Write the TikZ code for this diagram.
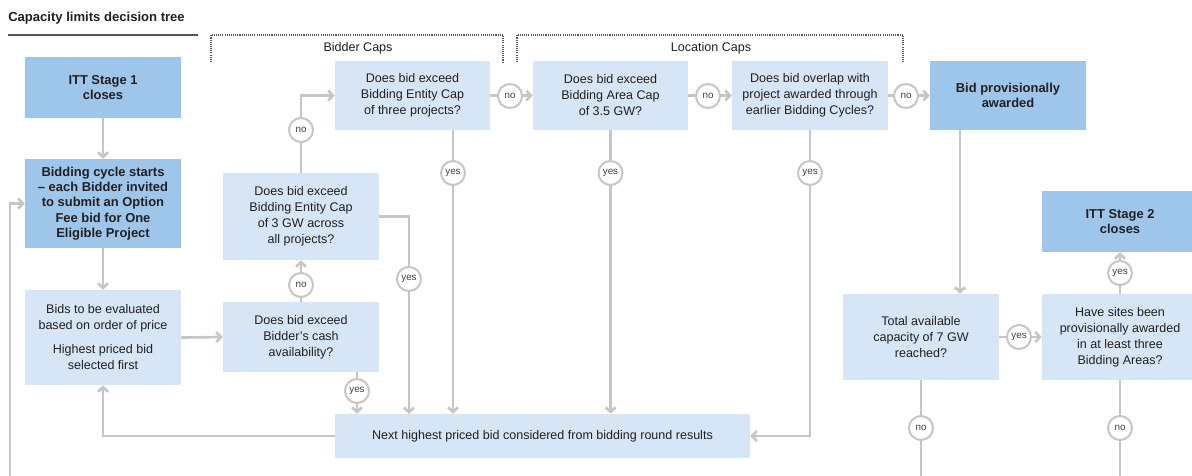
\documentclass[tikz,border=0pt]{standalone}
\usepackage{fontspec}
\setmainfont{Liberation Sans}
\usetikzlibrary{arrows.meta}
\definecolor{dkblue}{HTML}{9DC6EA}
\definecolor{ltblue}{HTML}{D6E6F6}
\definecolor{lgray}{HTML}{C6C6C6}
\definecolor{txt}{HTML}{231F20}
\definecolor{rule}{HTML}{555555}
\begin{document}
\begin{tikzpicture}[x=0.75pt,y=-0.75pt,
  box/.style={rectangle, inner sep=0pt, align=center, text=txt, font=\fontsize{9.4}{12}\selectfont},
  lbox/.style={box, fill=ltblue},
  dbox/.style={box, fill=dkblue, font=\fontsize{9.7}{11.5}\selectfont\bfseries},
  conn/.style={draw=lgray, line width=2pt},
  arr/.style={conn, -{Straight Barb[length=3.5pt,width=7.5pt]}},
  lab/.style={circle, draw=lgray, line width=1.5pt, fill=white, minimum size=18pt, inner sep=0pt, font=\fontsize{7.4}{8}\selectfont, text=txt!85},
  capt/.style={text=txt, font=\fontsize{9.4}{12}\selectfont},
  brk/.style={draw=rule, line width=0.8pt, dash pattern=on 0.8pt off 0.8pt}
]
\useasboundingbox (0,0) rectangle (1192,475);

% title
\node[anchor=west, inner sep=0pt, text=txt, font=\fontsize{9.8}{12}\selectfont\bfseries] (title) at (8,18) {Capacity limits decision tree};
\draw[draw=rule, line width=1.5pt] (8,35) -- (198,35);

% brackets
\draw[brk] (211,62) -- (211,35) -- (503,35) -- (503,62);
\draw[brk] (517,62) -- (517,35) -- (903,35) -- (903,62);
\node[capt] (bcap) at (358,48) {Bidder Caps};
\node[capt] (lcap) at (711,48) {Location Caps};

% boxes
\node[dbox, minimum width=117pt, minimum height=45.75pt] (itt1) at (103,87.5) {ITT Stage 1\\closes};
\node[dbox, minimum width=117pt, minimum height=66.75pt] (cyc) at (103,203.5) {Bidding cycle starts\\– each Bidder invited\\to submit an Option\\Fee bid for One\\Eligible Project};
\node[lbox, minimum width=117pt, minimum height=71.25pt] (bids) at (103,337.5) {Bids to be evaluated\\based on order of price\\[6pt]Highest priced bid\\selected first};
\node[lbox, minimum width=117pt, minimum height=65.25pt] (gw3) at (301,216.5) {Does bid exceed\\Bidding Entity Cap\\of 3 GW across\\all projects?};
\node[lbox, minimum width=117pt, minimum height=52.5pt] (cash) at (301,337) {Does bid exceed\\Bidder’s cash\\availability?};
\node[lbox, minimum width=116.25pt, minimum height=51.75pt] (three) at (412.5,95.5) {Does bid exceed\\Bidding Entity Cap\\of three projects?};
\node[lbox, minimum width=116.25pt, minimum height=51.75pt] (area) at (610.5,95.5) {Does bid exceed\\Bidding Area Cap\\of 3.5 GW?};
\node[lbox, minimum width=117pt, minimum height=51.75pt] (over) at (810,95.5) {Does bid overlap with\\project awarded through\\earlier Bidding Cycles?};
\node[dbox, minimum width=117pt, minimum height=51.75pt] (prov) at (1008,95.5) {Bid provisionally\\awarded};
\node[dbox, minimum width=117pt, minimum height=45.75pt] (itt2) at (1120,221.5) {ITT Stage 2\\closes};
\node[lbox, minimum width=117pt, minimum height=64.5pt] (total) at (921,337) {Total available\\capacity of 7 GW\\reached?};
\node[lbox, minimum width=117pt, minimum height=64.5pt] (sites) at (1120,337) {Have sites been\\provisionally awarded\\in at least three\\Bidding Areas?};
\node[lbox, minimum width=311.25pt, minimum height=33pt] (next) at (542.5,436) {Next highest priced bid considered from bidding round results};

% helper coordinates
\coordinate (c3) at (453,130);
\coordinate (c2) at (357,372);
\coordinate (c1) at (409,414);
\coordinate (c4) at (960,130);
\coordinate (lb) at (10,480);

% connectors
\draw[arr] (itt1) -- (cyc);
\draw[arr] (cyc) -- (bids);
\draw[arr] (bids.east) -- (cash.west);
\draw[arr] (cash.north) -- (gw3.south);
\draw[arr] (gw3.north) |- (three.west);
\draw[arr] (gw3.east) -| (c1);
\draw[arr] (c2) -- (c2 |- next.north);
\draw[arr] (c3) -- (c3 |- next.north);
\draw[arr] (area.south) -- (area.south |- next.north);
\draw[arr] (over.south) |- (next.east);
\draw[arr] (three.east) -- (area.west);
\draw[arr] (area.east) -- (over.west);
\draw[arr] (over.east) -- (prov.west);
\draw[arr] (c4) -- (c4 |- total.north);
\draw[arr] (total.east) -- (sites.west);
\draw[arr] (sites.north) -- (itt2.south);
\draw[conn] (total.south) -- (total.south |- lb);
\draw[conn] (sites.south) -- (sites.south |- lb);
\draw[arr] (next.west) -| (bids.south);
\draw[arr] (lb) |- (cyc.west);

% labels
\node[lab] (l1) at (301,285) {no};
\node[lab] (l2) at (301,130) {no};
\node[lab] (l3) at (409,279) {yes};
\node[lab] (l4) at (357,391) {yes};
\node[lab] (l5) at (453,173) {yes};
\node[lab] (l6) at (610.5,173) {yes};
\node[lab] (l7) at (810,173) {yes};
\node[lab] (l8) at (510,96) {no};
\node[lab] (l9) at (708,96) {no};
\node[lab] (l10) at (906,96) {no};
\node[lab] (l11) at (1019,337) {yes};
\node[lab] (l12) at (1120,273) {yes};
\node[lab] (l13) at (921,428) {no};
\node[lab] (l14) at (1120,428) {no};
\end{tikzpicture}
\end{document}
